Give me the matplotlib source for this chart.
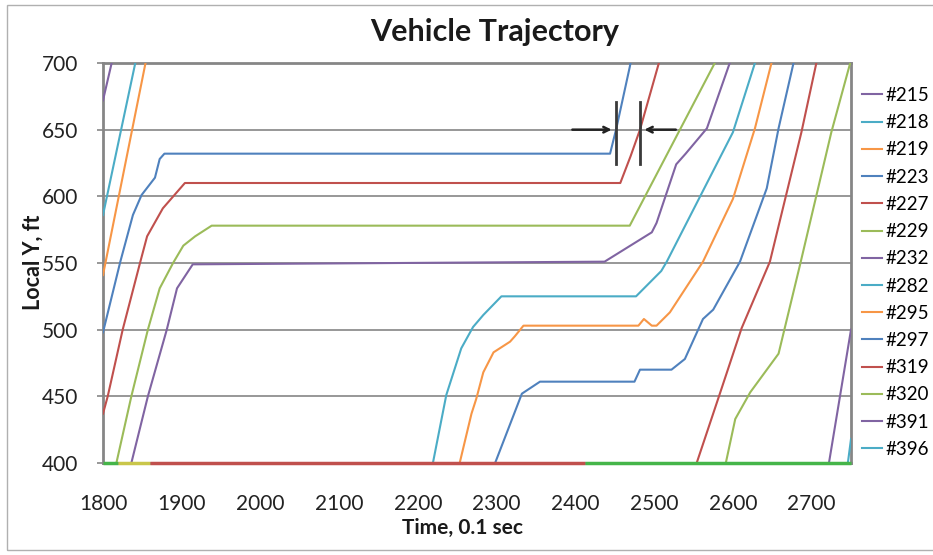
import numpy as np
import matplotlib
matplotlib.use("Agg")
import matplotlib.pyplot as plt
from matplotlib.lines import Line2D

# vehicle trajectories: time (0.1 s) and local Y (ft)
t_215 = [1800, 1811]
y_215 = [672, 700]
t_218 = [1800, 1841]
y_218 = [586, 700]
t_219 = [1800, 1854]
y_219 = [541, 700]
t_223 = [1800, 1822, 1838, 1849, 1866, 1872, 1878, 2444, 2452, 2469, 2470]
y_223 = [498, 551, 586, 601, 614, 628, 632, 632, 651, 697, 700]
t_227 = [1800, 1806, 1825, 1847, 1856, 1876, 1904, 2457, 2470, 2482, 2506]
y_227 = [437, 450, 500, 550, 570, 591, 610, 610, 630, 650, 700]
t_229 = [1817, 1836, 1857, 1872, 1889, 1902, 1917, 1938, 2469, 2577]
y_229 = [400, 450, 500, 531, 550, 563, 570, 578, 578, 700]
t_232 = [1836, 1857, 1881, 1894, 1914, 2437, 2497, 2503, 2528, 2540, 2567, 2596]
y_232 = [400, 450, 500, 531, 549, 551, 573, 580, 624, 632, 651, 700]
t_282 = [2219, 2236, 2255, 2270, 2283, 2306, 2477, 2509, 2516, 2600, 2628]
y_282 = [400, 451, 486, 502, 511, 525, 525, 544, 551, 648, 700]
t_295 = [2253, 2268, 2274, 2283, 2296, 2317, 2323, 2334, 2480, 2487, 2497, 2503,
         2520, 2562, 2600, 2628, 2649]
y_295 = [400, 437, 448, 468, 483, 491, 495, 503, 503, 508, 503, 503,
         513, 551, 598, 651, 700]
t_297 = [2298, 2332, 2355, 2475, 2482, 2522, 2539, 2562, 2575, 2609, 2643, 2658, 2677]
y_297 = [400, 452, 461, 461, 470, 470, 478, 508, 515, 551, 606, 651, 700]
t_319 = [2554, 2584, 2611, 2647, 2687, 2706]
y_319 = [400, 453, 501, 551, 648, 700]
t_320 = [2591, 2603, 2622, 2658, 2685, 2725, 2749]
y_320 = [400, 433, 453, 482, 548, 648, 700]
t_391 = [2722, 2750]
y_391 = [400, 500]
t_396 = [2746, 2750]
y_396 = [400, 418]

# other vehicles sitting on the bottom edge (times where the colour changes)
floor_t = [1800, 1819, 1860, 2412, 2750]

labels = ["#215", "#218", "#219", "#223", "#227", "#229", "#232",
          "#282", "#295", "#297", "#319", "#320", "#391", "#396"]

x_ticks = [1800, 1900, 2000, 2100, 2200, 2300, 2400, 2500, 2600, 2700]
y_ticks = [400, 450, 500, 550, 600, 650, 700]

# Excel 2007 palette, cycle starting at purple
palette = ["#8064A2", "#4BACC6", "#F79646", "#4F81BD", "#C0504D", "#9BBB59"]
floor_colors = ["#45B549", "#C9C64A", "#C0504D", "#45B549"]

plt.rcParams['font.family'] = ['Lato', 'DejaVu Sans']

fig = plt.figure(figsize=(9.33, 5.55), dpi=100)
ax = fig.add_axes([103 / 933, 92 / 555, 748 / 933, 400 / 555])

series = [(t_215, y_215), (t_218, y_218), (t_219, y_219), (t_223, y_223),
          (t_227, y_227), (t_229, y_229), (t_232, y_232), (t_282, y_282),
          (t_295, y_295), (t_297, y_297), (t_319, y_319), (t_320, y_320),
          (t_391, y_391), (t_396, y_396)]

handles = []
for i, (t, y) in enumerate(series):
    c = palette[i % len(palette)]
    ax.plot(t, y, color=c, lw=1.5, zorder=3)
    handles.append(Line2D([], [], color=c, lw=1.5))

for i in range(len(floor_t) - 1):
    ax.plot(floor_t[i:i + 2], [400, 400], color=floor_colors[i], lw=2.5,
            zorder=5, clip_on=False, solid_capstyle='butt')

# gridlines
for yv in y_ticks[1:-1]:
    ax.axhline(yv, color="#8f8f8f", lw=1.3, zorder=1)

# markers where #223 and #227 cross 650 ft
t_a = np.interp(650, y_223[-4:], t_223[-4:])
t_b = np.interp(650, y_227[-4:], t_227[-4:])
for tv in (t_a, t_b):
    ax.plot([tv, tv], [624, 671], color="#3a3a3a", lw=2, zorder=6)
ax.annotate("", xy=(t_a - 2, 650), xytext=(t_a - 59, 650),
            arrowprops=dict(arrowstyle="->", color="#222222", lw=1.8), zorder=6)
ax.annotate("", xy=(t_b + 2, 650), xytext=(t_b + 49, 650),
            arrowprops=dict(arrowstyle="->", color="#222222", lw=1.8), zorder=6)

ax.set_xlim(1800, 2750)
ax.set_ylim(400, 700)
ax.set_xticks(x_ticks)
ax.set_yticks(y_ticks)
ax.tick_params(axis='x', length=0, pad=22, labelsize=15, colors="#222222")
ax.tick_params(axis='y', length=4, width=1.2, color="#868686", pad=14,
               labelsize=15, labelcolor="#222222")
for s in ax.spines.values():
    s.set_color("#868686")
    s.set_linewidth(2)

fig.text(0.530, 1 - 32 / 555, "Vehicle Trajectory", ha='center', va='center',
         fontsize=22, fontweight='bold', color="#1a1a1a")
fig.text(462 / 933, 1 - 528 / 555, "Time, 0.1 sec", ha='center', va='center',
         fontsize=15, fontweight='bold', color="#1a1a1a")
fig.text(33 / 933, 1 - 262 / 555, "Local Y, ft", ha='center', va='center',
         rotation=90, fontsize=15.5, fontweight='bold', color="#1a1a1a")

fig.legend(handles, labels, loc='upper left', bbox_to_anchor=(862 / 933, 1 - 87 / 555),
           frameon=False, fontsize=13.5, handlelength=1.07, handletextpad=0.16,
           labelspacing=0.545, borderaxespad=0, borderpad=0)

# chart area border
fig.add_artist(plt.Rectangle((7 / 933, 5 / 555), 0.995, 1 - 10 / 555,
                             transform=fig.transFigure, fill=False,
                             edgecolor="#b0b0b0", lw=1))

fig.savefig("out.png", dpi=100)
